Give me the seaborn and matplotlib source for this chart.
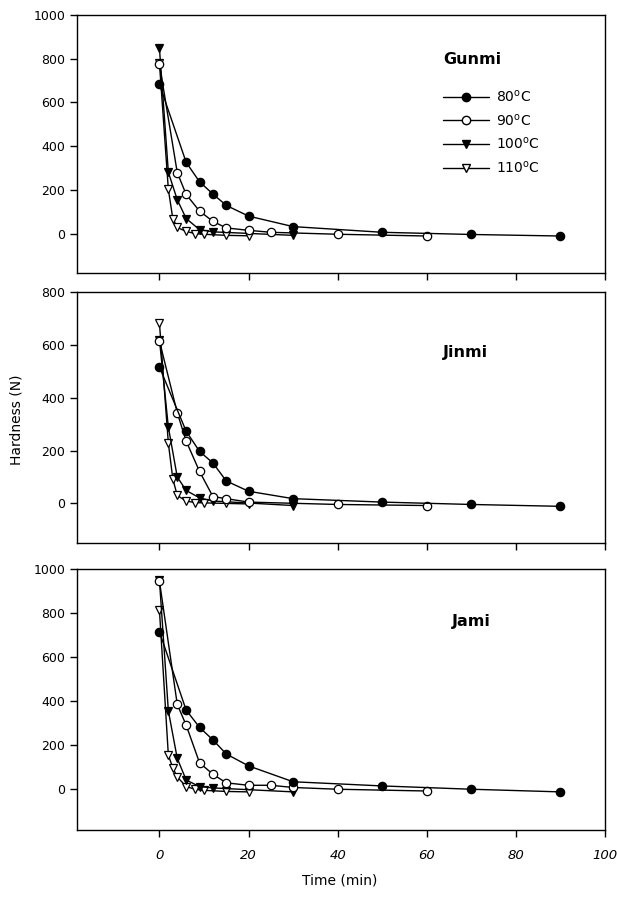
import pandas as pd
import seaborn as sns
import matplotlib.pyplot as plt
from matplotlib.lines import Line2D

# times (min) shared by several series
TIME_80 = [0, 6, 9, 12, 15, 20, 30, 50, 70, 90]
TIME_100 = [0, 2, 4, 6, 9, 12, 30]
TIME_110 = [0, 2, 3, 4, 6, 8, 10, 15, 20]
TIME_90_GUNMI = [0, 4, 6, 9, 12, 15, 20, 25, 40, 60]
TIME_90_JINMI = [0, 4, 6, 9, 12, 15, 20, 40, 60]
TIME_90_JAMI = [0, 4, 6, 9, 12, 15, 20, 25, 30, 40, 60]

# hardness (N)
GUNMI_80 = [683, 326, 237, 181, 129, 80, 32, 6, -4, -11]
GUNMI_90 = [775, 279, 179, 103, 56, 26, 15, 6, -3, -11]
GUNMI_100 = [848, 281, 155, 69, 18, 8, -8]
GUNMI_110 = [780, 202, 69, 28, 10, 0, -3, -8, -10]

JINMI_80 = [516, 273, 197, 153, 85, 46, 18, 5, -4, -11]
JINMI_90 = [615, 343, 236, 121, 26, 18, 5, -4, -8]
JINMI_100 = [620, 289, 100, 49, 21, 9, -8]
JINMI_110 = [683, 228, 93, 30, 9, 3, 2, 0, -2]

JAMI_80 = [715, 359, 281, 224, 160, 106, 34, 15, 0, -12]
JAMI_90 = [945, 385, 291, 120, 68, 29, 18, 18, 8, 0, -8]
JAMI_100 = [950, 356, 140, 42, 12, 6, -12]
JAMI_110 = [814, 155, 97, 56, 12, 0, -5, -10, -12]

TEMPS = ["80$^{\\mathrm{o}}$C", "90$^{\\mathrm{o}}$C", "100$^{\\mathrm{o}}$C", "110$^{\\mathrm{o}}$C"]
SAMPLES = ["Gunmi", "Jinmi", "Jami"]
X_TICKS = [0, 20, 40, 60, 80, 100]

# marker, face colour per temperature
MARKS = [("o", "black"), ("o", "white"), ("v", "black"), ("v", "white")]


def make_df(name, t90, h80, h90, h100, h110):
    rows = []
    for temp, t, h in zip(TEMPS, [TIME_80, t90, TIME_100, TIME_110], [h80, h90, h100, h110]):
        for a, b in zip(t, h):
            rows.append({"sample": name, "temp": temp, "time": a, "hardness": b})
    return pd.DataFrame(rows)


df = pd.concat([
    make_df("Gunmi", TIME_90_GUNMI, GUNMI_80, GUNMI_90, GUNMI_100, GUNMI_110),
    make_df("Jinmi", TIME_90_JINMI, JINMI_80, JINMI_90, JINMI_100, JINMI_110),
    make_df("Jami", TIME_90_JAMI, JAMI_80, JAMI_90, JAMI_100, JAMI_110),
])

sns.set_style("ticks")
plt.rcParams["font.family"] = ["DejaVu Sans"]
plt.rcParams["axes.linewidth"] = 1.0
plt.rcParams["text.color"] = "black"
plt.rcParams["axes.labelcolor"] = "black"
plt.rcParams["xtick.color"] = "black"
plt.rcParams["ytick.color"] = "black"

fig = plt.figure(figsize=(6.17, 8.97), dpi=100)
positions = [
    [0.1248, 0.6957, 0.8558, 0.2876],
    [0.1248, 0.3946, 0.8558, 0.2798],
    [0.1248, 0.0747, 0.8558, 0.2910],
]
ylims = [(-180, 1000), (-150, 800), (-185, 1000)]
yticks = [range(0, 1001, 200), range(0, 801, 200), range(0, 1001, 200)]
title_pos = [(0.693, 0.826), (0.693, 0.761), (0.71, 0.797)]

for i, name in enumerate(SAMPLES):
    ax = fig.add_axes(positions[i])
    sub = df[df["sample"] == name]
    for j, temp in enumerate(TEMPS):
        d = sub[sub["temp"] == temp]
        marker, face = MARKS[j]
        sns.lineplot(data=d, x="time", y="hardness", ax=ax, color="black", lw=1.0,
                     marker=marker, markersize=6, markerfacecolor=face,
                     markeredgecolor="black", markeredgewidth=0.9,
                     zorder=10 - j, estimator=None, sort=True)
    ax.set_xlim(-18.5, 100)
    ax.set_ylim(*ylims[i])
    ax.set_xticks(X_TICKS)
    ax.set_yticks(list(yticks[i]))
    ax.set_xlabel("")
    ax.set_ylabel("")
    ax.tick_params(direction="out", length=5, width=1, labelsize=9, colors="black")
    if i < 2:
        ax.set_xticklabels([])
    else:
        ax.set_xticklabels([str(x) for x in X_TICKS], fontstyle="italic", size=9.5)
        ax.tick_params(axis="x", pad=9)
    for s in ax.spines.values():
        s.set_color("black")
    ax.text(title_pos[i][0], title_pos[i][1], name, transform=ax.transAxes,
            fontsize=11.5, fontweight="bold", ha="left", va="center", color="black")
    if i == 0:
        handles = [Line2D([], [], color="black", lw=1.0, marker=m, markersize=6,
                          markerfacecolor=f, markeredgecolor="black") for m, f in MARKS]
        ax.legend(handles, TEMPS, loc="upper left", bbox_to_anchor=(0.693, 0.715),
                  frameon=False, fontsize=10, handlelength=3.3, handletextpad=0.5,
                  labelspacing=0.55, borderpad=0, borderaxespad=0)

fig.text(17 / 617, 1 - 420 / 897, "Hardness (N)", rotation=90, ha="center", va="center", fontsize=10)
fig.text(340 / 617, 1 - 880 / 897, "Time (min)", ha="center", va="center", fontsize=10)

fig.savefig("out.png", dpi=100)
plt.close()
